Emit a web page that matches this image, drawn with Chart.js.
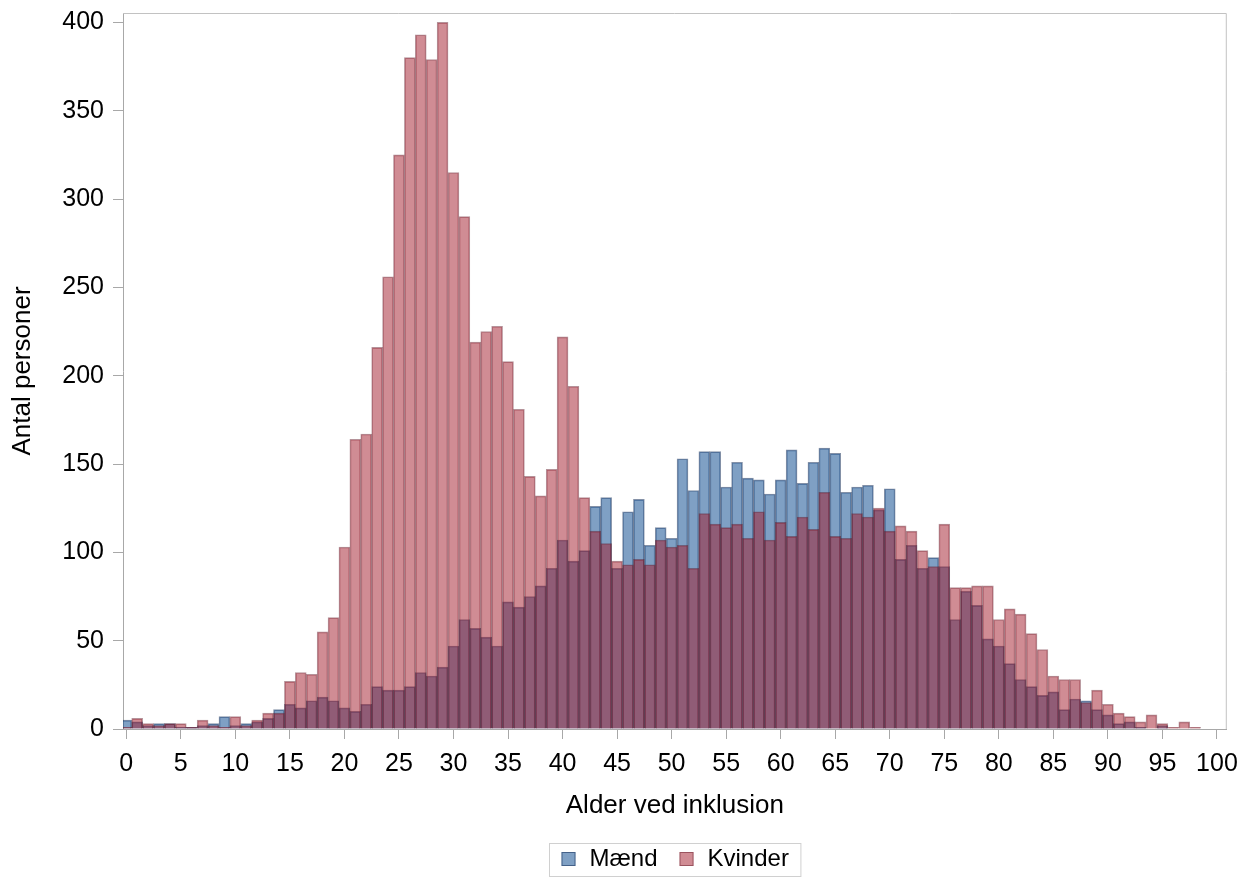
<!DOCTYPE html>
<html>
<head>
<meta charset="utf-8">
<script src="https://cdn.jsdelivr.net/npm/chart.js@4.4.1/dist/chart.umd.min.js"></script>
<style>
  html, body { margin: 0; background: #fff; }
  canvas { display: block; }
</style>
</head>
<body>
<canvas id="c" width="1248" height="893"></canvas>
<script>
// Alder ved inklusion, 1-års intervaller
const AGES = [0,1,2,3,4,5,6,7,8,9,10,11,12,13,14,15,16,17,18,19,20,21,22,23,24,25,26,27,28,29,
  30,31,32,33,34,35,36,37,38,39,40,41,42,43,44,45,46,47,48,49,50,51,52,53,54,55,56,57,58,59,
  60,61,62,63,64,65,66,67,68,69,70,71,72,73,74,75,76,77,78,79,80,81,82,83,84,85,86,87,88,89,
  90,91,92,93,94,95,96,97,98];
const MAEND = [5,4,2,3,3,1,1,2,3,7,2,3,4,6,11,14,12,16,18,16,12,10,14,24,22,22,24,32,30,35,
  47,62,57,52,47,72,69,75,81,91,107,95,101,126,131,91,123,130,104,114,108,153,135,157,157,137,151,142,141,133,
  141,158,139,151,159,156,134,137,138,124,136,96,104,91,97,92,62,78,70,51,47,37,28,24,19,21,11,17,16,11,
  8,3,4,1,0,2,0,0,0];
const KVINDER = [1,6,3,2,3,3,1,5,2,1,7,2,5,9,9,27,32,31,55,63,103,164,167,216,256,325,380,393,379,400,
  315,290,219,225,228,208,181,143,132,147,222,194,131,112,105,95,93,96,93,107,103,104,91,122,116,114,116,108,123,107,
  117,109,120,113,134,109,108,122,120,125,112,115,112,101,92,116,80,80,81,81,62,68,65,54,45,30,28,28,15,22,
  14,9,7,4,8,3,1,4,1];
const X_TICKS = [0,5,10,15,20,25,30,35,40,45,50,55,60,65,70,75,80,85,90,95,100];
const Y_TICKS = [0,50,100,150,200,250,300,350,400];

const BLUE = "rgba(0,65,137,0.5)", BLUE_EDGE = "rgba(10,35,80,0.5)";
const RED = "rgba(161,25,41,0.5)", RED_EDGE = "rgba(90,15,30,0.45)";
const AXIS = "#a8a8a8", FRAME = "#c2c2c2";
const FONT = '"Liberation Sans", Arial, Helvetica, sans-serif';

Chart.defaults.font.family = FONT;
Chart.defaults.color = "#000";

const pts = (vals) => AGES.map((a, i) => ({ x: a, y: vals[i] }));

// top/right frame + boxed legend under the plot
const frameAndLegend = {
  id: "frameAndLegend",
  afterDraw(chart) {
    const { ctx, chartArea: a } = chart;
    ctx.save();
    ctx.strokeStyle = FRAME; ctx.lineWidth = 1;
    ctx.beginPath();
    ctx.moveTo(a.left, a.top + 0.5);
    ctx.lineTo(a.right - 0.5, a.top + 0.5);
    ctx.lineTo(a.right - 0.5, a.bottom);
    ctx.stroke();

    ctx.font = "24px " + FONT;
    const items = chart.data.datasets.map((d) => ({ d, w: ctx.measureText(d.label).width }));
    const pad = 12, sq = 14, gap = 14, between = 22;
    const total = pad * 2 + items.reduce((s, it) => s + sq + gap + it.w, 0) + between * (items.length - 1);
    const left = Math.round((a.left + a.right) / 2 - total / 2) + 0.5;
    const top = 843.5, h = 33, cy = 859;
    ctx.strokeStyle = "#d0d0d0";
    ctx.strokeRect(left, top, total, h);
    let x = left + pad;
    items.forEach((it) => {
      ctx.fillStyle = it.d.backgroundColor;
      ctx.fillRect(x, cy - 7, sq, sq);
      ctx.strokeStyle = it.d.borderColor;
      ctx.strokeRect(x + 0.5, cy - 6.5, sq - 1, sq - 1);
      x += sq + gap;
      ctx.fillStyle = "#000"; ctx.textBaseline = "middle"; ctx.textAlign = "left";
      ctx.fillText(it.d.label, x, cy);
      x += it.w + between;
    });
    ctx.restore();
  }
};

new Chart(document.getElementById("c"), {
  type: "bar",
  data: {
    datasets: [
      { label: "Mænd", data: pts(MAEND), backgroundColor: BLUE, borderColor: BLUE_EDGE, borderWidth: 1,
        grouped: false, barPercentage: 1, categoryPercentage: 1, order: 1 },
      { label: "Kvinder", data: pts(KVINDER), backgroundColor: RED, borderColor: RED_EDGE, borderWidth: 1,
        grouped: false, barPercentage: 1, categoryPercentage: 1, order: 0 },
    ]
  },
  options: {
    responsive: false, animation: false, devicePixelRatio: 1,
    layout: { padding: { top: 13, right: 20, bottom: 0, left: 0 } },
    plugins: { legend: { display: false }, tooltip: { enabled: false } },
    scales: {
      x: {
        type: "linear", min: -0.3, max: 100.9, offset: false,
        afterBuildTicks: (s) => { s.ticks = X_TICKS.map((v) => ({ value: v })); },
        afterFit: (s) => { s.height = 164; },
        grid: { drawOnChartArea: false, drawTicks: true, tickLength: 10, color: AXIS, offset: false },
        border: { color: AXIS },
        ticks: { padding: 10, font: { size: 25 }, color: "#000", maxRotation: 0, autoSkip: false },
        title: { display: true, text: "Alder ved inklusion", font: { size: 26 }, color: "#000", padding: { top: 0, bottom: 72 } }
      },
      y: {
        min: 0, max: 405.3,
        afterBuildTicks: (s) => { s.ticks = Y_TICKS.map((v) => ({ value: v })); },
        afterFit: (s) => { s.width = 123; s.paddingTop = 0; s.paddingBottom = 0; },
        grid: { drawOnChartArea: false, drawTicks: true, tickLength: 10, color: AXIS },
        border: { color: AXIS },
        ticks: { padding: 9, font: { size: 25 }, color: "#000" },
        title: { display: true, text: "Antal personer", font: { size: 26 }, color: "#000", padding: { top: 7, bottom: 0 } }
      }
    }
  },
  plugins: [frameAndLegend]
});
</script>
</body>
</html>
